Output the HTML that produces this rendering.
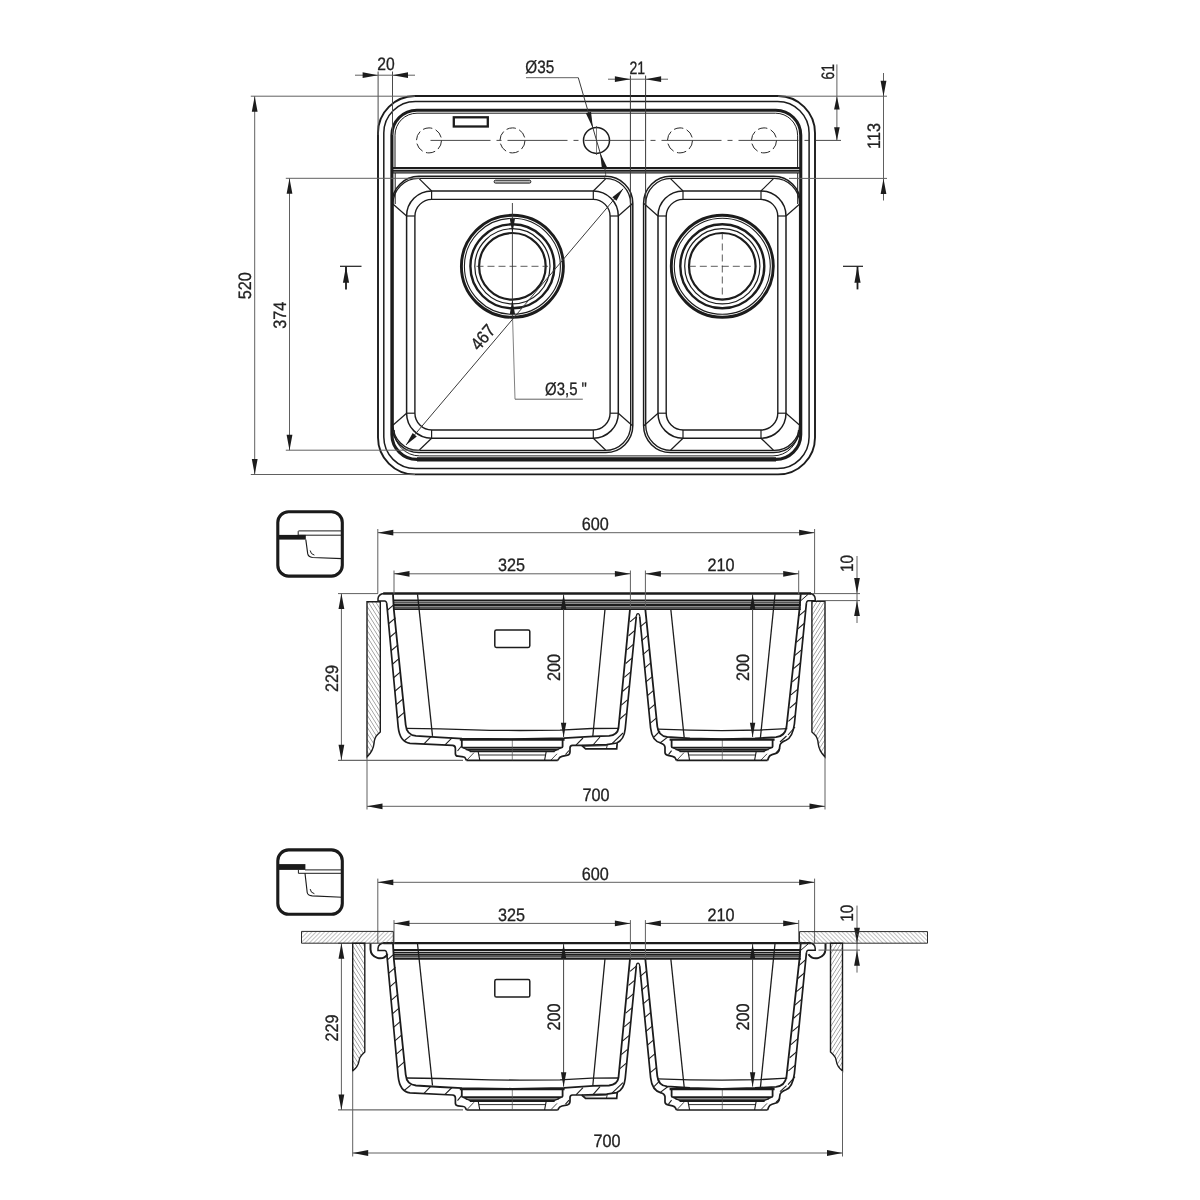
<!DOCTYPE html>
<html><head><meta charset="utf-8"><title>Sink technical drawing</title>
<style>html,body{margin:0;padding:0;background:#fff}svg{display:block}text{font-family:"Liberation Sans",sans-serif;fill:#222;stroke:#222;stroke-width:0.3px;text-rendering:geometricPrecision}svg{filter:grayscale(1)}</style></head><body>
<svg width="1200" height="1200" viewBox="0 0 1200 1200">
<rect width="1200" height="1200" fill="#fff"/>
<g id="topview">
<rect x="378.00" y="96.00" width="437.00" height="378.40" rx="37" ry="37" stroke="#1c1c1c" stroke-width="1.9" fill="none"/>
<rect x="383.80" y="101.60" width="425.30" height="367.00" rx="31.5" ry="31.5" stroke="#1c1c1c" stroke-width="1.5" fill="none"/>
<rect x="391.90" y="110.20" width="408.85" height="349.20" rx="25" ry="25" stroke="#1c1c1c" stroke-width="3.1" fill="none"/>
<path d="M395,168 L395,135.2 A22,22 0 0 1 417,113.2 L775.6,113.2 A22,22 0 0 1 797.6,135.2 L797.6,168" stroke="#1c1c1c" stroke-width="1.0" fill="none" />
<path d="M394.2,430 A25.5,25.5 0 0 0 419.5,455.9 L773,455.9 A25.5,25.5 0 0 0 798.4,430" stroke="#1c1c1c" stroke-width="1.0" fill="none" />
<line x1="417.00" y1="459.45" x2="776.00" y2="459.45" stroke="#1c1c1c" stroke-width="4.2" />
<line x1="797.70" y1="173.00" x2="797.70" y2="204.00" stroke="#1c1c1c" stroke-width="1.0" />
<line x1="395.20" y1="173.00" x2="395.20" y2="204.00" stroke="#1c1c1c" stroke-width="1.0" />
<line x1="392.00" y1="168.10" x2="800.60" y2="168.10" stroke="#1c1c1c" stroke-width="2.0" />
<line x1="392.00" y1="170.70" x2="800.60" y2="170.70" stroke="#1c1c1c" stroke-width="2.0" />
<line x1="393.00" y1="172.90" x2="799.60" y2="172.90" stroke="#1c1c1c" stroke-width="1.2" />
<rect x="453.8" y="117.3" width="34" height="9.2" stroke="#1c1c1c" stroke-width="2.3" fill="none"/>
<circle cx="429.00" cy="140.40" r="12.50" stroke="#2a2a2a" stroke-width="1.0" fill="none" stroke-dasharray="9.5 3.6"/>
<circle cx="512.50" cy="140.40" r="12.50" stroke="#2a2a2a" stroke-width="1.0" fill="none" stroke-dasharray="9.5 3.6"/>
<circle cx="680.00" cy="140.40" r="12.50" stroke="#2a2a2a" stroke-width="1.0" fill="none" stroke-dasharray="9.5 3.6"/>
<circle cx="764.00" cy="140.40" r="12.50" stroke="#2a2a2a" stroke-width="1.0" fill="none" stroke-dasharray="9.5 3.6"/>
<circle cx="596.50" cy="140.40" r="13.00" stroke="#1c1c1c" stroke-width="1.5" fill="none" />
<line x1="430.50" y1="140.40" x2="841.00" y2="140.40" stroke="#333" stroke-width="0.9" stroke-dasharray="60 6 5 6"/>
<line x1="596.50" y1="126.00" x2="596.50" y2="155.00" stroke="#444" stroke-width="0.7" />
<rect x="392.00" y="176.30" width="240.80" height="276.30" rx="27" ry="27" stroke="#1c1c1c" stroke-width="1.5" fill="none"/>
<rect x="393.00" y="178.40" width="237.70" height="272.00" rx="25.5" ry="25.5" stroke="#1c1c1c" stroke-width="1.35" fill="none"/>
<rect x="406.60" y="191.00" width="211.70" height="247.20" rx="25" ry="25" stroke="#1c1c1c" stroke-width="1.5" fill="none"/>
<rect x="414.90" y="199.40" width="195.20" height="230.60" rx="17" ry="17" stroke="#1c1c1c" stroke-width="1.4" fill="none"/>
<line x1="431.60" y1="191.00" x2="431.60" y2="199.40" stroke="#1c1c1c" stroke-width="1.2" />
<line x1="431.60" y1="438.20" x2="431.60" y2="430.00" stroke="#1c1c1c" stroke-width="1.2" />
<line x1="593.30" y1="191.00" x2="593.30" y2="199.40" stroke="#1c1c1c" stroke-width="1.2" />
<line x1="593.30" y1="438.20" x2="593.30" y2="430.00" stroke="#1c1c1c" stroke-width="1.2" />
<line x1="406.60" y1="216.00" x2="414.90" y2="216.00" stroke="#1c1c1c" stroke-width="1.2" />
<line x1="618.30" y1="216.00" x2="610.10" y2="216.00" stroke="#1c1c1c" stroke-width="1.2" />
<line x1="406.60" y1="413.20" x2="414.90" y2="413.20" stroke="#1c1c1c" stroke-width="1.2" />
<line x1="618.30" y1="413.20" x2="610.10" y2="413.20" stroke="#1c1c1c" stroke-width="1.2" />
<line x1="431.60" y1="191.00" x2="419.10" y2="178.60" stroke="#1c1c1c" stroke-width="1.2" />
<line x1="406.60" y1="216.00" x2="392.30" y2="203.50" stroke="#1c1c1c" stroke-width="1.2" />
<line x1="593.30" y1="191.00" x2="605.80" y2="178.60" stroke="#1c1c1c" stroke-width="1.2" />
<line x1="618.30" y1="216.00" x2="632.50" y2="203.50" stroke="#1c1c1c" stroke-width="1.2" />
<line x1="431.60" y1="438.20" x2="419.10" y2="450.30" stroke="#1c1c1c" stroke-width="1.2" />
<line x1="406.60" y1="413.20" x2="392.30" y2="425.70" stroke="#1c1c1c" stroke-width="1.2" />
<line x1="593.30" y1="438.20" x2="605.80" y2="450.30" stroke="#1c1c1c" stroke-width="1.2" />
<line x1="618.30" y1="413.20" x2="632.50" y2="425.70" stroke="#1c1c1c" stroke-width="1.2" />
<rect x="643.60" y="176.30" width="157.00" height="276.30" rx="27" ry="27" stroke="#1c1c1c" stroke-width="1.5" fill="none"/>
<rect x="645.70" y="178.40" width="153.90" height="272.00" rx="25.5" ry="25.5" stroke="#1c1c1c" stroke-width="1.35" fill="none"/>
<rect x="658.00" y="191.00" width="128.00" height="247.20" rx="25" ry="25" stroke="#1c1c1c" stroke-width="1.5" fill="none"/>
<rect x="666.20" y="199.40" width="111.60" height="230.60" rx="17" ry="17" stroke="#1c1c1c" stroke-width="1.4" fill="none"/>
<line x1="683.00" y1="191.00" x2="683.00" y2="199.40" stroke="#1c1c1c" stroke-width="1.2" />
<line x1="683.00" y1="438.20" x2="683.00" y2="430.00" stroke="#1c1c1c" stroke-width="1.2" />
<line x1="761.00" y1="191.00" x2="761.00" y2="199.40" stroke="#1c1c1c" stroke-width="1.2" />
<line x1="761.00" y1="438.20" x2="761.00" y2="430.00" stroke="#1c1c1c" stroke-width="1.2" />
<line x1="658.00" y1="216.00" x2="666.20" y2="216.00" stroke="#1c1c1c" stroke-width="1.2" />
<line x1="786.00" y1="216.00" x2="777.80" y2="216.00" stroke="#1c1c1c" stroke-width="1.2" />
<line x1="658.00" y1="413.20" x2="666.20" y2="413.20" stroke="#1c1c1c" stroke-width="1.2" />
<line x1="786.00" y1="413.20" x2="777.80" y2="413.20" stroke="#1c1c1c" stroke-width="1.2" />
<line x1="683.00" y1="191.00" x2="670.50" y2="178.60" stroke="#1c1c1c" stroke-width="1.2" />
<line x1="658.00" y1="216.00" x2="643.90" y2="203.50" stroke="#1c1c1c" stroke-width="1.2" />
<line x1="761.00" y1="191.00" x2="773.50" y2="178.60" stroke="#1c1c1c" stroke-width="1.2" />
<line x1="786.00" y1="216.00" x2="800.30" y2="203.50" stroke="#1c1c1c" stroke-width="1.2" />
<line x1="683.00" y1="438.20" x2="670.50" y2="450.30" stroke="#1c1c1c" stroke-width="1.2" />
<line x1="658.00" y1="413.20" x2="643.90" y2="425.70" stroke="#1c1c1c" stroke-width="1.2" />
<line x1="761.00" y1="438.20" x2="773.50" y2="450.30" stroke="#1c1c1c" stroke-width="1.2" />
<line x1="786.00" y1="413.20" x2="800.30" y2="425.70" stroke="#1c1c1c" stroke-width="1.2" />
<rect x="494.2" y="180.2" width="36.6" height="2.9" rx="1.2" stroke="#1c1c1c" stroke-width="1" fill="#bbb"/>
<circle cx="512.40" cy="266.30" r="51.00" stroke="#1c1c1c" stroke-width="2.9" fill="none" />
<circle cx="512.40" cy="266.30" r="48.00" stroke="#1c1c1c" stroke-width="1.1" fill="none" />
<circle cx="512.40" cy="266.30" r="42.00" stroke="#1c1c1c" stroke-width="2.4" fill="none" />
<circle cx="512.40" cy="266.30" r="37.60" stroke="#1c1c1c" stroke-width="1.2" fill="none" />
<circle cx="512.40" cy="266.30" r="33.30" stroke="#1c1c1c" stroke-width="2.2" fill="none" />
<circle cx="722.30" cy="266.30" r="51.00" stroke="#1c1c1c" stroke-width="2.9" fill="none" />
<circle cx="722.30" cy="266.30" r="48.00" stroke="#1c1c1c" stroke-width="1.1" fill="none" />
<circle cx="722.30" cy="266.30" r="42.00" stroke="#1c1c1c" stroke-width="2.4" fill="none" />
<circle cx="722.30" cy="266.30" r="37.60" stroke="#1c1c1c" stroke-width="1.2" fill="none" />
<circle cx="722.30" cy="266.30" r="33.30" stroke="#1c1c1c" stroke-width="2.2" fill="none" />
<line x1="476.50" y1="266.30" x2="548.00" y2="266.30" stroke="#333" stroke-width="0.8" stroke-dasharray="7 4"/>
<line x1="688.80" y1="266.30" x2="755.00" y2="266.30" stroke="#333" stroke-width="0.8" stroke-dasharray="7 4"/>
<line x1="722.30" y1="232.50" x2="722.30" y2="300.00" stroke="#333" stroke-width="0.8" stroke-dasharray="7 4"/>
<line x1="512.40" y1="203.00" x2="512.40" y2="319.00" stroke="#333" stroke-width="0.9" />
<line x1="512.60" y1="319.00" x2="515.00" y2="399.20" stroke="#606060" stroke-width="0.8" />
<line x1="515.00" y1="399.20" x2="582.80" y2="399.20" stroke="#606060" stroke-width="1.0" />
<polygon points="512.40,233.00 509.80,218.70 515.00,218.70" fill="#1c1c1c"/>
<polygon points="512.40,299.60 515.00,313.90 509.80,313.90" fill="#1c1c1c"/>
<text transform="translate(566.00 395.30) rotate(0) scale(0.83 1)" text-anchor="middle" font-size="18">Ø3,5 "</text>
</g>
<g id="topdims">
<line x1="378.10" y1="71.50" x2="378.10" y2="135.00" stroke="#4a4a4a" stroke-width="1.0" />
<line x1="392.50" y1="71.50" x2="392.50" y2="135.00" stroke="#4a4a4a" stroke-width="1.0" />
<line x1="355.00" y1="75.20" x2="415.00" y2="75.20" stroke="#606060" stroke-width="1.0" />
<polygon points="378.10,75.20 362.60,78.10 362.60,72.30" fill="#1c1c1c"/>
<polygon points="392.50,75.20 408.00,72.30 408.00,78.10" fill="#1c1c1c"/>
<text transform="translate(386.00 70.40) rotate(0) scale(0.87 1)" text-anchor="middle" font-size="18">20</text>
<line x1="630.40" y1="75.50" x2="630.40" y2="205.00" stroke="#3a3a3a" stroke-width="1.0" />
<line x1="645.60" y1="75.50" x2="645.60" y2="205.00" stroke="#3a3a3a" stroke-width="1.0" />
<line x1="608.00" y1="79.20" x2="668.00" y2="79.20" stroke="#606060" stroke-width="1.0" />
<polygon points="630.40,79.20 614.90,82.10 614.90,76.30" fill="#1c1c1c"/>
<polygon points="645.60,79.20 661.10,76.30 661.10,82.10" fill="#1c1c1c"/>
<text transform="translate(637.20 74.20) rotate(0) scale(0.78 1)" text-anchor="middle" font-size="18">21</text>
<text transform="translate(539.70 72.80) rotate(0) scale(0.85 1)" text-anchor="middle" font-size="18">Ø35</text>
<line x1="526.00" y1="77.70" x2="578.30" y2="77.70" stroke="#606060" stroke-width="1.0" />
<line x1="578.30" y1="77.70" x2="605.30" y2="170.60" stroke="#3a3a3a" stroke-width="1.0" />
<path d="M605.3,170.6 Q606.4,175 604.6,177.6" stroke="#3a3a3a" stroke-width="0.9" fill="none" />
<polygon points="592.88,127.91 585.83,113.30 591.02,111.80" fill="#1c1c1c"/>
<polygon points="600.12,152.89 607.17,167.50 601.98,169.00" fill="#1c1c1c"/>
<line x1="836.90" y1="64.40" x2="836.90" y2="140.40" stroke="#606060" stroke-width="1.0" />
<polygon points="836.90,96.20 839.70,109.40 834.10,109.40" fill="#1c1c1c"/>
<polygon points="836.90,140.40 834.10,127.20 839.70,127.20" fill="#1c1c1c"/>
<text transform="translate(833.70 71.80) rotate(-90) scale(0.77 1)" text-anchor="middle" font-size="18">61</text>
<line x1="778.00" y1="96.20" x2="887.00" y2="96.20" stroke="#606060" stroke-width="1.0" />
<line x1="789.00" y1="178.40" x2="887.00" y2="178.40" stroke="#606060" stroke-width="1.0" />
<line x1="883.50" y1="73.00" x2="883.50" y2="200.50" stroke="#606060" stroke-width="1.0" />
<polygon points="883.50,96.20 880.60,80.70 886.40,80.70" fill="#1c1c1c"/>
<polygon points="883.50,178.40 886.40,193.90 880.60,193.90" fill="#1c1c1c"/>
<text transform="translate(880.30 136.00) rotate(-90) scale(0.9 1)" text-anchor="middle" font-size="18">113</text>
<line x1="250.80" y1="96.20" x2="415.00" y2="96.20" stroke="#606060" stroke-width="1.0" />
<line x1="250.80" y1="474.50" x2="415.00" y2="474.50" stroke="#606060" stroke-width="1.0" />
<line x1="254.70" y1="96.20" x2="254.70" y2="474.50" stroke="#606060" stroke-width="1.0" />
<polygon points="254.70,96.20 257.60,111.70 251.80,111.70" fill="#1c1c1c"/>
<polygon points="254.70,474.50 251.80,459.00 257.60,459.00" fill="#1c1c1c"/>
<text transform="translate(251.00 285.70) rotate(-90) scale(0.9 1)" text-anchor="middle" font-size="18">520</text>
<line x1="285.80" y1="178.30" x2="420.00" y2="178.30" stroke="#606060" stroke-width="1.0" />
<line x1="285.80" y1="450.20" x2="420.00" y2="450.20" stroke="#606060" stroke-width="1.0" />
<line x1="289.50" y1="178.30" x2="289.50" y2="450.20" stroke="#606060" stroke-width="1.0" />
<polygon points="289.50,178.30 292.40,193.80 286.60,193.80" fill="#1c1c1c"/>
<polygon points="289.50,450.20 286.60,434.70 292.40,434.70" fill="#1c1c1c"/>
<text transform="translate(286.40 315.30) rotate(-90) scale(0.9 1)" text-anchor="middle" font-size="18">374</text>
<line x1="406.00" y1="445.00" x2="623.10" y2="188.80" stroke="#3a3a3a" stroke-width="1.0" />
<polygon points="623.10,188.80 616.43,200.84 612.31,197.35" fill="#1c1c1c"/>
<polygon points="406.00,445.00 412.67,432.96 416.79,436.45" fill="#1c1c1c"/>
<text transform="translate(487.50 341.30) rotate(-49.72256370871027) scale(0.9 1)" text-anchor="middle" font-size="18">467</text>
<line x1="340.00" y1="266.30" x2="361.50" y2="266.30" stroke="#1c1c1c" stroke-width="1.2" />
<line x1="346.00" y1="266.50" x2="346.00" y2="289.40" stroke="#1c1c1c" stroke-width="1.8" />
<polygon points="346.00,266.30 349.10,282.80 342.90,282.80" fill="#1c1c1c"/>
<line x1="843.00" y1="266.30" x2="863.00" y2="266.30" stroke="#1c1c1c" stroke-width="1.2" />
<line x1="857.50" y1="266.50" x2="857.50" y2="289.40" stroke="#1c1c1c" stroke-width="1.8" />
<polygon points="857.50,266.30 860.60,282.80 854.40,282.80" fill="#1c1c1c"/>
</g>
<defs>
<pattern id="hA" width="3.2" height="3.2" patternUnits="userSpaceOnUse" patternTransform="rotate(58)"><line x1="0" y1="0" x2="3.2" y2="0" stroke="#555" stroke-width="0.9"/></pattern>
<pattern id="hB" width="3.2" height="3.2" patternUnits="userSpaceOnUse" patternTransform="rotate(-58)"><line x1="0" y1="0" x2="3.2" y2="0" stroke="#555" stroke-width="0.9"/></pattern>
<pattern id="hC" width="3.0" height="3.0" patternUnits="userSpaceOnUse" patternTransform="rotate(-45)"><line x1="0" y1="0" x2="3.0" y2="0" stroke="#666" stroke-width="0.8"/></pattern>
<pattern id="hD" width="3.0" height="3.0" patternUnits="userSpaceOnUse" patternTransform="rotate(45)"><line x1="0" y1="0" x2="3.0" y2="0" stroke="#666" stroke-width="0.8"/></pattern>
</defs>
<g transform="translate(0 0)">
<path d="M383.3,593.5 L811,593.5" stroke="#1c1c1c" stroke-width="2.4" fill="none" />
<path d="M384,593.4 Q378.4,594 378,598.6 L378,600.9 L385,600.9 Q386.4,601.2 386.7,603.2" stroke="#1c1c1c" stroke-width="1.5" fill="none" />
<path d="M810,593.4 Q814.8,594 815.2,598.6 L815.2,600.7 L808,600.7 Q806.7,601.1 806.4,603.2" stroke="#1c1c1c" stroke-width="1.5" fill="none" />
<line x1="800.90" y1="600.60" x2="808.00" y2="594.40" stroke="#1c1c1c" stroke-width="1.0" />
<line x1="393.70" y1="600.40" x2="800.80" y2="600.40" stroke="#1c1c1c" stroke-width="2.0" />
<line x1="393.70" y1="602.80" x2="800.80" y2="602.80" stroke="#1c1c1c" stroke-width="1.3" />
<line x1="393.70" y1="605.00" x2="800.80" y2="605.00" stroke="#1c1c1c" stroke-width="2.2" />
<line x1="393.70" y1="607.20" x2="800.80" y2="607.20" stroke="#1c1c1c" stroke-width="1.3" />
<line x1="393.70" y1="609.20" x2="800.80" y2="609.20" stroke="#1c1c1c" stroke-width="1.7" />
<path d="M393,594.2 L393.8,609.2 L405.7,725 Q406.6,735 416,735.9 L440,737.4 L462,738.6 L512,739.2 L564,738.2 L593.3,736.3 L609,735.9 Q617.5,735 618.5,728 L630,609.2" stroke="#1c1c1c" stroke-width="1.8" fill="none" />
<path d="M386.7,603.2 L398.2,727 Q399.8,742 410,743.3 L452.5,745.4 Q455.4,745.6 455.4,748.5 L455.4,753.8 Q455.6,756 458,756.2 L463.5,756.9 Q465,757 465.6,758.6 L466.4,760.4" stroke="#1c1c1c" stroke-width="1.7" fill="none" />
<path d="M406,728.4 L440,728.9 L490,730.3 L520,730.5 L560,730.2 L591.7,728.5 L618.5,728.4" stroke="#1c1c1c" stroke-width="1.3" fill="none" />
<line x1="417.50" y1="594.20" x2="432.50" y2="735.90" stroke="#1c1c1c" stroke-width="1.3" />
<line x1="605.00" y1="609.20" x2="592.80" y2="736.20" stroke="#1c1c1c" stroke-width="1.3" />
<rect x="494.8" y="630" width="35" height="17.4" rx="1.6" stroke="#1c1c1c" stroke-width="1.5" fill="none"/>
<path d="M636.3,616.5 L625.2,729 Q624,740 616.7,743 L606.7,744.6 L581.7,745.4 L572.5,745.4 Q570,745.6 570,748 L570,751.7 Q570,754.6 567.6,755.2 L562,756.4 Q559.6,757 558.8,758.6 L557.8,760.4" stroke="#1c1c1c" stroke-width="1.7" fill="none" />
<path d="M581.7,745.4 L585.6,748.8 L616.7,748.8 L617.2,743.2" stroke="#1c1c1c" stroke-width="1.7" fill="none" />
<line x1="583.50" y1="746.40" x2="606.70" y2="745.60" stroke="#1c1c1c" stroke-width="0.8" />
<line x1="607.40" y1="744.60" x2="606.40" y2="748.80" stroke="#1c1c1c" stroke-width="0.9" />
<path d="M636.3,616.5 Q636.6,613.6 638,613.6 Q639.5,613.6 639.7,616.5" stroke="#1c1c1c" stroke-width="1.3" fill="none" />
<path d="M639.7,616.5 L650.6,728 Q652,741 661,743.2 Q664.6,744.2 665,747 L665,752.6 Q665.2,754.8 668,755.3 L672.5,756.3 Q675,756.8 675.6,758.6 L676.4,760.4" stroke="#1c1c1c" stroke-width="1.7" fill="none" />
<path d="M645.3,609.2 L657.3,726.5 Q658.4,736 667,736.8 L690,738.4 L722,739.2 L755,738.4 L776,737.2 Q785,736.4 786.5,727 L799.5,609.2 L800.7,594.2" stroke="#1c1c1c" stroke-width="1.8" fill="none" />
<path d="M806.4,603.2 L794.4,724 Q792.6,737.6 786,740.2 Q781,742 780,745 L779.4,749 Q779,752.6 776,753.4 L772,754.6 Q769.4,755.4 768.6,757.6 L767.6,760.4" stroke="#1c1c1c" stroke-width="1.7" fill="none" />
<path d="M657.6,729.2 L690,730.2 L722,730.6 L760,730 L787.3,728.6" stroke="#1c1c1c" stroke-width="1.3" fill="none" />
<line x1="670.80" y1="609.20" x2="684.20" y2="737.60" stroke="#1c1c1c" stroke-width="1.3" />
<line x1="775.00" y1="594.20" x2="760.40" y2="738.00" stroke="#1c1c1c" stroke-width="1.3" />
<path d="M461.8,739.6 L461.8,746.4 Q461.8,747.6 463.2,747.6 L561.2,747.6 Q562.6,747.6 562.6,746.4 L562.6,739.6" stroke="#1c1c1c" stroke-width="1.8" fill="none" />
<line x1="465.80" y1="749.50" x2="558.60" y2="749.50" stroke="#1c1c1c" stroke-width="1.3" />
<line x1="469.80" y1="751.30" x2="554.60" y2="751.30" stroke="#1c1c1c" stroke-width="2.0" />
<line x1="463.20" y1="747.80" x2="470.80" y2="751.40" stroke="#1c1c1c" stroke-width="1.2" />
<line x1="561.20" y1="747.80" x2="553.60" y2="751.40" stroke="#1c1c1c" stroke-width="1.2" />
<line x1="478.80" y1="755.00" x2="545.60" y2="755.00" stroke="#1c1c1c" stroke-width="0.9" />
<line x1="466.40" y1="760.40" x2="557.80" y2="760.40" stroke="#1c1c1c" stroke-width="1.6" />
<line x1="478.20" y1="751.60" x2="479.80" y2="760.40" stroke="#1c1c1c" stroke-width="1.1" />
<line x1="546.20" y1="751.60" x2="544.60" y2="760.40" stroke="#1c1c1c" stroke-width="1.1" />
<line x1="512.30" y1="739.00" x2="512.30" y2="760.40" stroke="#555" stroke-width="0.7" />
<line x1="459.80" y1="739.60" x2="564.60" y2="739.60" stroke="#1c1c1c" stroke-width="2.2" />
<path d="M671.6,739.6 L671.6,746.4 Q671.6,747.6 673.0,747.6 L771.2,747.6 Q772.6,747.6 772.6,746.4 L772.6,739.6" stroke="#1c1c1c" stroke-width="1.8" fill="none" />
<line x1="675.60" y1="749.50" x2="768.60" y2="749.50" stroke="#1c1c1c" stroke-width="1.3" />
<line x1="679.60" y1="751.30" x2="764.60" y2="751.30" stroke="#1c1c1c" stroke-width="2.0" />
<line x1="673.00" y1="747.80" x2="680.60" y2="751.40" stroke="#1c1c1c" stroke-width="1.2" />
<line x1="771.20" y1="747.80" x2="763.60" y2="751.40" stroke="#1c1c1c" stroke-width="1.2" />
<line x1="688.60" y1="755.00" x2="755.60" y2="755.00" stroke="#1c1c1c" stroke-width="0.9" />
<line x1="676.40" y1="760.40" x2="767.60" y2="760.40" stroke="#1c1c1c" stroke-width="1.6" />
<line x1="688.00" y1="751.60" x2="689.60" y2="760.40" stroke="#1c1c1c" stroke-width="1.1" />
<line x1="756.20" y1="751.60" x2="754.60" y2="760.40" stroke="#1c1c1c" stroke-width="1.1" />
<line x1="722.30" y1="739.00" x2="722.30" y2="760.40" stroke="#555" stroke-width="0.7" />
<line x1="669.60" y1="739.60" x2="774.60" y2="739.60" stroke="#1c1c1c" stroke-width="2.2" />
<line x1="387.34" y1="610.23" x2="394.24" y2="604.36" stroke="#1c1c1c" stroke-width="1.05" />
<line x1="388.59" y1="623.73" x2="395.49" y2="617.86" stroke="#1c1c1c" stroke-width="1.05" />
<line x1="389.85" y1="637.23" x2="396.75" y2="631.36" stroke="#1c1c1c" stroke-width="1.05" />
<line x1="391.11" y1="650.73" x2="398.01" y2="644.86" stroke="#1c1c1c" stroke-width="1.05" />
<line x1="392.36" y1="664.23" x2="399.26" y2="658.36" stroke="#1c1c1c" stroke-width="1.05" />
<line x1="393.62" y1="677.73" x2="400.52" y2="671.86" stroke="#1c1c1c" stroke-width="1.05" />
<line x1="394.87" y1="691.23" x2="401.77" y2="685.36" stroke="#1c1c1c" stroke-width="1.05" />
<line x1="396.13" y1="704.73" x2="403.03" y2="698.86" stroke="#1c1c1c" stroke-width="1.05" />
<line x1="397.38" y1="718.23" x2="404.28" y2="712.36" stroke="#1c1c1c" stroke-width="1.05" />
<line x1="805.74" y1="610.11" x2="798.84" y2="615.97" stroke="#1c1c1c" stroke-width="1.05" />
<line x1="804.43" y1="623.27" x2="797.53" y2="629.14" stroke="#1c1c1c" stroke-width="1.05" />
<line x1="803.12" y1="636.44" x2="796.22" y2="642.31" stroke="#1c1c1c" stroke-width="1.05" />
<line x1="801.81" y1="649.61" x2="794.91" y2="655.47" stroke="#1c1c1c" stroke-width="1.05" />
<line x1="800.50" y1="662.77" x2="793.60" y2="668.64" stroke="#1c1c1c" stroke-width="1.05" />
<line x1="799.19" y1="675.94" x2="792.29" y2="681.81" stroke="#1c1c1c" stroke-width="1.05" />
<line x1="797.87" y1="689.11" x2="790.97" y2="694.97" stroke="#1c1c1c" stroke-width="1.05" />
<line x1="796.56" y1="702.27" x2="789.66" y2="708.14" stroke="#1c1c1c" stroke-width="1.05" />
<line x1="795.25" y1="715.44" x2="788.35" y2="721.31" stroke="#1c1c1c" stroke-width="1.05" />
<line x1="630.09" y1="621.86" x2="636.29" y2="616.59" stroke="#1c1c1c" stroke-width="1.05" />
<line x1="628.63" y1="635.73" x2="634.83" y2="630.46" stroke="#1c1c1c" stroke-width="1.05" />
<line x1="627.16" y1="649.61" x2="633.36" y2="644.34" stroke="#1c1c1c" stroke-width="1.05" />
<line x1="625.70" y1="663.48" x2="631.90" y2="658.21" stroke="#1c1c1c" stroke-width="1.05" />
<line x1="624.24" y1="677.36" x2="630.44" y2="672.09" stroke="#1c1c1c" stroke-width="1.05" />
<line x1="622.78" y1="691.23" x2="628.98" y2="685.96" stroke="#1c1c1c" stroke-width="1.05" />
<line x1="621.31" y1="705.11" x2="627.51" y2="699.84" stroke="#1c1c1c" stroke-width="1.05" />
<line x1="619.85" y1="718.98" x2="626.05" y2="713.71" stroke="#1c1c1c" stroke-width="1.05" />
<line x1="646.11" y1="621.81" x2="639.91" y2="627.08" stroke="#1c1c1c" stroke-width="1.05" />
<line x1="647.56" y1="635.56" x2="641.36" y2="640.83" stroke="#1c1c1c" stroke-width="1.05" />
<line x1="649.01" y1="649.31" x2="642.81" y2="654.58" stroke="#1c1c1c" stroke-width="1.05" />
<line x1="650.46" y1="663.06" x2="644.26" y2="668.33" stroke="#1c1c1c" stroke-width="1.05" />
<line x1="651.91" y1="676.81" x2="645.71" y2="682.08" stroke="#1c1c1c" stroke-width="1.05" />
<line x1="653.36" y1="690.56" x2="647.16" y2="695.83" stroke="#1c1c1c" stroke-width="1.05" />
<line x1="654.81" y1="704.31" x2="648.61" y2="709.58" stroke="#1c1c1c" stroke-width="1.05" />
<line x1="656.26" y1="718.06" x2="650.06" y2="723.33" stroke="#1c1c1c" stroke-width="1.05" />
<line x1="404.00" y1="741.00" x2="410.60" y2="735.60" stroke="#1c1c1c" stroke-width="1.1" />
<line x1="424.00" y1="743.80" x2="431.00" y2="736.60" stroke="#1c1c1c" stroke-width="1.1" />
<line x1="445.00" y1="744.80" x2="452.00" y2="737.90" stroke="#1c1c1c" stroke-width="1.1" />
<line x1="457.50" y1="751.00" x2="461.60" y2="746.00" stroke="#1c1c1c" stroke-width="1.1" />
<line x1="576.00" y1="745.20" x2="583.00" y2="738.00" stroke="#1c1c1c" stroke-width="1.1" />
<line x1="593.00" y1="745.00" x2="600.00" y2="737.00" stroke="#1c1c1c" stroke-width="1.1" />
<line x1="612.00" y1="743.60" x2="623.00" y2="733.00" stroke="#1c1c1c" stroke-width="1.1" />
<line x1="565.50" y1="754.50" x2="569.00" y2="750.50" stroke="#1c1c1c" stroke-width="1.1" />
<line x1="654.00" y1="737.00" x2="660.00" y2="731.00" stroke="#1c1c1c" stroke-width="1.1" />
<line x1="660.00" y1="743.00" x2="668.00" y2="736.90" stroke="#1c1c1c" stroke-width="1.1" />
<line x1="668.50" y1="754.60" x2="671.60" y2="750.60" stroke="#1c1c1c" stroke-width="1.1" />
<line x1="776.00" y1="752.80" x2="780.00" y2="748.40" stroke="#1c1c1c" stroke-width="1.1" />
<line x1="780.00" y1="742.00" x2="786.50" y2="736.00" stroke="#1c1c1c" stroke-width="1.1" />
<line x1="788.00" y1="735.00" x2="795.00" y2="727.00" stroke="#1c1c1c" stroke-width="1.1" />
<line x1="467.00" y1="760.00" x2="474.00" y2="752.60" stroke="#1c1c1c" stroke-width="0.8" />
<line x1="551.00" y1="760.00" x2="557.00" y2="753.80" stroke="#1c1c1c" stroke-width="0.8" />
<line x1="677.00" y1="760.00" x2="684.00" y2="752.60" stroke="#1c1c1c" stroke-width="0.8" />
<line x1="761.00" y1="760.00" x2="767.00" y2="753.80" stroke="#1c1c1c" stroke-width="0.8" />
<line x1="377.80" y1="529.00" x2="377.80" y2="593.50" stroke="#606060" stroke-width="1.0" />
<line x1="814.60" y1="529.00" x2="814.60" y2="593.50" stroke="#606060" stroke-width="1.0" />
<line x1="377.80" y1="532.70" x2="814.60" y2="532.70" stroke="#606060" stroke-width="1.0" />
<polygon points="377.80,532.70 393.30,529.80 393.30,535.60" fill="#1c1c1c"/>
<polygon points="814.60,532.70 799.10,535.60 799.10,529.80" fill="#1c1c1c"/>
<text transform="translate(595.30 530.10) rotate(0) scale(0.9 1)" text-anchor="middle" font-size="18">600</text>
<line x1="394.00" y1="570.50" x2="394.00" y2="594.00" stroke="#606060" stroke-width="1.0" />
<line x1="630.40" y1="570.50" x2="630.40" y2="609.00" stroke="#606060" stroke-width="1.0" />
<line x1="394.00" y1="573.80" x2="630.40" y2="573.80" stroke="#606060" stroke-width="1.0" />
<polygon points="394.00,573.80 409.50,570.90 409.50,576.70" fill="#1c1c1c"/>
<polygon points="630.40,573.80 614.90,576.70 614.90,570.90" fill="#1c1c1c"/>
<text transform="translate(511.50 570.90) rotate(0) scale(0.9 1)" text-anchor="middle" font-size="18">325</text>
<line x1="645.40" y1="570.50" x2="645.40" y2="609.00" stroke="#606060" stroke-width="1.0" />
<line x1="798.70" y1="570.50" x2="798.70" y2="594.00" stroke="#606060" stroke-width="1.0" />
<line x1="645.40" y1="573.80" x2="798.70" y2="573.80" stroke="#606060" stroke-width="1.0" />
<polygon points="645.40,573.80 660.90,570.90 660.90,576.70" fill="#1c1c1c"/>
<polygon points="798.70,573.80 783.20,576.70 783.20,570.90" fill="#1c1c1c"/>
<text transform="translate(721.00 570.90) rotate(0) scale(0.9 1)" text-anchor="middle" font-size="18">210</text>
<line x1="563.60" y1="594.20" x2="563.60" y2="737.00" stroke="#444" stroke-width="1.0" />
<polygon points="563.60,594.60 566.30,609.10 560.90,609.10" fill="#1c1c1c"/>
<polygon points="563.60,737.20 560.90,722.70 566.30,722.70" fill="#1c1c1c"/>
<text transform="translate(560.20 667.50) rotate(-90) scale(0.9 1)" text-anchor="middle" font-size="18">200</text>
<line x1="752.60" y1="594.20" x2="752.60" y2="737.00" stroke="#444" stroke-width="1.0" />
<polygon points="752.60,594.60 755.30,609.10 749.90,609.10" fill="#1c1c1c"/>
<polygon points="752.60,737.20 749.90,722.70 755.30,722.70" fill="#1c1c1c"/>
<text transform="translate(749.20 667.50) rotate(-90) scale(0.9 1)" text-anchor="middle" font-size="18">200</text>
<line x1="338.00" y1="593.60" x2="378.00" y2="593.60" stroke="#606060" stroke-width="1.0" />
<line x1="338.00" y1="760.30" x2="463.00" y2="760.30" stroke="#444" stroke-width="1.0" />
<line x1="341.40" y1="593.60" x2="341.40" y2="760.30" stroke="#606060" stroke-width="1.0" />
<polygon points="341.40,593.60 344.30,609.10 338.50,609.10" fill="#1c1c1c"/>
<polygon points="341.40,760.30 338.50,744.80 344.30,744.80" fill="#1c1c1c"/>
<text transform="translate(338.00 678.50) rotate(-90) scale(0.9 1)" text-anchor="middle" font-size="18">229</text>
<line x1="857.00" y1="556.00" x2="857.00" y2="623.00" stroke="#606060" stroke-width="1.0" />
<polygon points="857.00,593.60 854.10,578.10 859.90,578.10" fill="#1c1c1c"/>
<polygon points="857.00,600.60 859.90,616.10 854.10,616.10" fill="#1c1c1c"/>
<text transform="translate(852.50 563.60) rotate(-90) scale(0.85 1)" text-anchor="middle" font-size="18">10</text>
</g>
<g transform="translate(0 349.6)">
<path d="M383.3,593.5 L811,593.5" stroke="#1c1c1c" stroke-width="2.4" fill="none" />
<path d="M384,593.4 Q378.4,594 378,598.6 L378,600.9 L385,600.9 Q386.4,601.2 386.7,603.2" stroke="#1c1c1c" stroke-width="1.5" fill="none" />
<path d="M810,593.4 Q814.8,594 815.2,598.6 L815.2,600.7 L808,600.7 Q806.7,601.1 806.4,603.2" stroke="#1c1c1c" stroke-width="1.5" fill="none" />
<line x1="800.90" y1="600.60" x2="808.00" y2="594.40" stroke="#1c1c1c" stroke-width="1.0" />
<line x1="393.70" y1="600.40" x2="800.80" y2="600.40" stroke="#1c1c1c" stroke-width="2.0" />
<line x1="393.70" y1="602.80" x2="800.80" y2="602.80" stroke="#1c1c1c" stroke-width="1.3" />
<line x1="393.70" y1="605.00" x2="800.80" y2="605.00" stroke="#1c1c1c" stroke-width="2.2" />
<line x1="393.70" y1="607.20" x2="800.80" y2="607.20" stroke="#1c1c1c" stroke-width="1.3" />
<line x1="393.70" y1="609.20" x2="800.80" y2="609.20" stroke="#1c1c1c" stroke-width="1.7" />
<path d="M393,594.2 L393.8,609.2 L405.7,725 Q406.6,735 416,735.9 L440,737.4 L462,738.6 L512,739.2 L564,738.2 L593.3,736.3 L609,735.9 Q617.5,735 618.5,728 L630,609.2" stroke="#1c1c1c" stroke-width="1.8" fill="none" />
<path d="M386.7,603.2 L398.2,727 Q399.8,742 410,743.3 L452.5,745.4 Q455.4,745.6 455.4,748.5 L455.4,753.8 Q455.6,756 458,756.2 L463.5,756.9 Q465,757 465.6,758.6 L466.4,760.4" stroke="#1c1c1c" stroke-width="1.7" fill="none" />
<path d="M406,728.4 L440,728.9 L490,730.3 L520,730.5 L560,730.2 L591.7,728.5 L618.5,728.4" stroke="#1c1c1c" stroke-width="1.3" fill="none" />
<line x1="417.50" y1="594.20" x2="432.50" y2="735.90" stroke="#1c1c1c" stroke-width="1.3" />
<line x1="605.00" y1="609.20" x2="592.80" y2="736.20" stroke="#1c1c1c" stroke-width="1.3" />
<rect x="494.8" y="630" width="35" height="17.4" rx="1.6" stroke="#1c1c1c" stroke-width="1.5" fill="none"/>
<path d="M636.3,616.5 L625.2,729 Q624,740 616.7,743 L606.7,744.6 L581.7,745.4 L572.5,745.4 Q570,745.6 570,748 L570,751.7 Q570,754.6 567.6,755.2 L562,756.4 Q559.6,757 558.8,758.6 L557.8,760.4" stroke="#1c1c1c" stroke-width="1.7" fill="none" />
<path d="M581.7,745.4 L585.6,748.8 L616.7,748.8 L617.2,743.2" stroke="#1c1c1c" stroke-width="1.7" fill="none" />
<line x1="583.50" y1="746.40" x2="606.70" y2="745.60" stroke="#1c1c1c" stroke-width="0.8" />
<line x1="607.40" y1="744.60" x2="606.40" y2="748.80" stroke="#1c1c1c" stroke-width="0.9" />
<path d="M636.3,616.5 Q636.6,613.6 638,613.6 Q639.5,613.6 639.7,616.5" stroke="#1c1c1c" stroke-width="1.3" fill="none" />
<path d="M639.7,616.5 L650.6,728 Q652,741 661,743.2 Q664.6,744.2 665,747 L665,752.6 Q665.2,754.8 668,755.3 L672.5,756.3 Q675,756.8 675.6,758.6 L676.4,760.4" stroke="#1c1c1c" stroke-width="1.7" fill="none" />
<path d="M645.3,609.2 L657.3,726.5 Q658.4,736 667,736.8 L690,738.4 L722,739.2 L755,738.4 L776,737.2 Q785,736.4 786.5,727 L799.5,609.2 L800.7,594.2" stroke="#1c1c1c" stroke-width="1.8" fill="none" />
<path d="M806.4,603.2 L794.4,724 Q792.6,737.6 786,740.2 Q781,742 780,745 L779.4,749 Q779,752.6 776,753.4 L772,754.6 Q769.4,755.4 768.6,757.6 L767.6,760.4" stroke="#1c1c1c" stroke-width="1.7" fill="none" />
<path d="M657.6,729.2 L690,730.2 L722,730.6 L760,730 L787.3,728.6" stroke="#1c1c1c" stroke-width="1.3" fill="none" />
<line x1="670.80" y1="609.20" x2="684.20" y2="737.60" stroke="#1c1c1c" stroke-width="1.3" />
<line x1="775.00" y1="594.20" x2="760.40" y2="738.00" stroke="#1c1c1c" stroke-width="1.3" />
<path d="M461.8,739.6 L461.8,746.4 Q461.8,747.6 463.2,747.6 L561.2,747.6 Q562.6,747.6 562.6,746.4 L562.6,739.6" stroke="#1c1c1c" stroke-width="1.8" fill="none" />
<line x1="465.80" y1="749.50" x2="558.60" y2="749.50" stroke="#1c1c1c" stroke-width="1.3" />
<line x1="469.80" y1="751.30" x2="554.60" y2="751.30" stroke="#1c1c1c" stroke-width="2.0" />
<line x1="463.20" y1="747.80" x2="470.80" y2="751.40" stroke="#1c1c1c" stroke-width="1.2" />
<line x1="561.20" y1="747.80" x2="553.60" y2="751.40" stroke="#1c1c1c" stroke-width="1.2" />
<line x1="478.80" y1="755.00" x2="545.60" y2="755.00" stroke="#1c1c1c" stroke-width="0.9" />
<line x1="466.40" y1="760.40" x2="557.80" y2="760.40" stroke="#1c1c1c" stroke-width="1.6" />
<line x1="478.20" y1="751.60" x2="479.80" y2="760.40" stroke="#1c1c1c" stroke-width="1.1" />
<line x1="546.20" y1="751.60" x2="544.60" y2="760.40" stroke="#1c1c1c" stroke-width="1.1" />
<line x1="512.30" y1="739.00" x2="512.30" y2="760.40" stroke="#555" stroke-width="0.7" />
<line x1="459.80" y1="739.60" x2="564.60" y2="739.60" stroke="#1c1c1c" stroke-width="2.2" />
<path d="M671.6,739.6 L671.6,746.4 Q671.6,747.6 673.0,747.6 L771.2,747.6 Q772.6,747.6 772.6,746.4 L772.6,739.6" stroke="#1c1c1c" stroke-width="1.8" fill="none" />
<line x1="675.60" y1="749.50" x2="768.60" y2="749.50" stroke="#1c1c1c" stroke-width="1.3" />
<line x1="679.60" y1="751.30" x2="764.60" y2="751.30" stroke="#1c1c1c" stroke-width="2.0" />
<line x1="673.00" y1="747.80" x2="680.60" y2="751.40" stroke="#1c1c1c" stroke-width="1.2" />
<line x1="771.20" y1="747.80" x2="763.60" y2="751.40" stroke="#1c1c1c" stroke-width="1.2" />
<line x1="688.60" y1="755.00" x2="755.60" y2="755.00" stroke="#1c1c1c" stroke-width="0.9" />
<line x1="676.40" y1="760.40" x2="767.60" y2="760.40" stroke="#1c1c1c" stroke-width="1.6" />
<line x1="688.00" y1="751.60" x2="689.60" y2="760.40" stroke="#1c1c1c" stroke-width="1.1" />
<line x1="756.20" y1="751.60" x2="754.60" y2="760.40" stroke="#1c1c1c" stroke-width="1.1" />
<line x1="722.30" y1="739.00" x2="722.30" y2="760.40" stroke="#555" stroke-width="0.7" />
<line x1="669.60" y1="739.60" x2="774.60" y2="739.60" stroke="#1c1c1c" stroke-width="2.2" />
<line x1="387.34" y1="610.23" x2="394.24" y2="604.36" stroke="#1c1c1c" stroke-width="1.05" />
<line x1="388.59" y1="623.73" x2="395.49" y2="617.86" stroke="#1c1c1c" stroke-width="1.05" />
<line x1="389.85" y1="637.23" x2="396.75" y2="631.36" stroke="#1c1c1c" stroke-width="1.05" />
<line x1="391.11" y1="650.73" x2="398.01" y2="644.86" stroke="#1c1c1c" stroke-width="1.05" />
<line x1="392.36" y1="664.23" x2="399.26" y2="658.36" stroke="#1c1c1c" stroke-width="1.05" />
<line x1="393.62" y1="677.73" x2="400.52" y2="671.86" stroke="#1c1c1c" stroke-width="1.05" />
<line x1="394.87" y1="691.23" x2="401.77" y2="685.36" stroke="#1c1c1c" stroke-width="1.05" />
<line x1="396.13" y1="704.73" x2="403.03" y2="698.86" stroke="#1c1c1c" stroke-width="1.05" />
<line x1="397.38" y1="718.23" x2="404.28" y2="712.36" stroke="#1c1c1c" stroke-width="1.05" />
<line x1="805.74" y1="610.11" x2="798.84" y2="615.97" stroke="#1c1c1c" stroke-width="1.05" />
<line x1="804.43" y1="623.27" x2="797.53" y2="629.14" stroke="#1c1c1c" stroke-width="1.05" />
<line x1="803.12" y1="636.44" x2="796.22" y2="642.31" stroke="#1c1c1c" stroke-width="1.05" />
<line x1="801.81" y1="649.61" x2="794.91" y2="655.47" stroke="#1c1c1c" stroke-width="1.05" />
<line x1="800.50" y1="662.77" x2="793.60" y2="668.64" stroke="#1c1c1c" stroke-width="1.05" />
<line x1="799.19" y1="675.94" x2="792.29" y2="681.81" stroke="#1c1c1c" stroke-width="1.05" />
<line x1="797.87" y1="689.11" x2="790.97" y2="694.97" stroke="#1c1c1c" stroke-width="1.05" />
<line x1="796.56" y1="702.27" x2="789.66" y2="708.14" stroke="#1c1c1c" stroke-width="1.05" />
<line x1="795.25" y1="715.44" x2="788.35" y2="721.31" stroke="#1c1c1c" stroke-width="1.05" />
<line x1="630.09" y1="621.86" x2="636.29" y2="616.59" stroke="#1c1c1c" stroke-width="1.05" />
<line x1="628.63" y1="635.73" x2="634.83" y2="630.46" stroke="#1c1c1c" stroke-width="1.05" />
<line x1="627.16" y1="649.61" x2="633.36" y2="644.34" stroke="#1c1c1c" stroke-width="1.05" />
<line x1="625.70" y1="663.48" x2="631.90" y2="658.21" stroke="#1c1c1c" stroke-width="1.05" />
<line x1="624.24" y1="677.36" x2="630.44" y2="672.09" stroke="#1c1c1c" stroke-width="1.05" />
<line x1="622.78" y1="691.23" x2="628.98" y2="685.96" stroke="#1c1c1c" stroke-width="1.05" />
<line x1="621.31" y1="705.11" x2="627.51" y2="699.84" stroke="#1c1c1c" stroke-width="1.05" />
<line x1="619.85" y1="718.98" x2="626.05" y2="713.71" stroke="#1c1c1c" stroke-width="1.05" />
<line x1="646.11" y1="621.81" x2="639.91" y2="627.08" stroke="#1c1c1c" stroke-width="1.05" />
<line x1="647.56" y1="635.56" x2="641.36" y2="640.83" stroke="#1c1c1c" stroke-width="1.05" />
<line x1="649.01" y1="649.31" x2="642.81" y2="654.58" stroke="#1c1c1c" stroke-width="1.05" />
<line x1="650.46" y1="663.06" x2="644.26" y2="668.33" stroke="#1c1c1c" stroke-width="1.05" />
<line x1="651.91" y1="676.81" x2="645.71" y2="682.08" stroke="#1c1c1c" stroke-width="1.05" />
<line x1="653.36" y1="690.56" x2="647.16" y2="695.83" stroke="#1c1c1c" stroke-width="1.05" />
<line x1="654.81" y1="704.31" x2="648.61" y2="709.58" stroke="#1c1c1c" stroke-width="1.05" />
<line x1="656.26" y1="718.06" x2="650.06" y2="723.33" stroke="#1c1c1c" stroke-width="1.05" />
<line x1="404.00" y1="741.00" x2="410.60" y2="735.60" stroke="#1c1c1c" stroke-width="1.1" />
<line x1="424.00" y1="743.80" x2="431.00" y2="736.60" stroke="#1c1c1c" stroke-width="1.1" />
<line x1="445.00" y1="744.80" x2="452.00" y2="737.90" stroke="#1c1c1c" stroke-width="1.1" />
<line x1="457.50" y1="751.00" x2="461.60" y2="746.00" stroke="#1c1c1c" stroke-width="1.1" />
<line x1="576.00" y1="745.20" x2="583.00" y2="738.00" stroke="#1c1c1c" stroke-width="1.1" />
<line x1="593.00" y1="745.00" x2="600.00" y2="737.00" stroke="#1c1c1c" stroke-width="1.1" />
<line x1="612.00" y1="743.60" x2="623.00" y2="733.00" stroke="#1c1c1c" stroke-width="1.1" />
<line x1="565.50" y1="754.50" x2="569.00" y2="750.50" stroke="#1c1c1c" stroke-width="1.1" />
<line x1="654.00" y1="737.00" x2="660.00" y2="731.00" stroke="#1c1c1c" stroke-width="1.1" />
<line x1="660.00" y1="743.00" x2="668.00" y2="736.90" stroke="#1c1c1c" stroke-width="1.1" />
<line x1="668.50" y1="754.60" x2="671.60" y2="750.60" stroke="#1c1c1c" stroke-width="1.1" />
<line x1="776.00" y1="752.80" x2="780.00" y2="748.40" stroke="#1c1c1c" stroke-width="1.1" />
<line x1="780.00" y1="742.00" x2="786.50" y2="736.00" stroke="#1c1c1c" stroke-width="1.1" />
<line x1="788.00" y1="735.00" x2="795.00" y2="727.00" stroke="#1c1c1c" stroke-width="1.1" />
<line x1="467.00" y1="760.00" x2="474.00" y2="752.60" stroke="#1c1c1c" stroke-width="0.8" />
<line x1="551.00" y1="760.00" x2="557.00" y2="753.80" stroke="#1c1c1c" stroke-width="0.8" />
<line x1="677.00" y1="760.00" x2="684.00" y2="752.60" stroke="#1c1c1c" stroke-width="0.8" />
<line x1="761.00" y1="760.00" x2="767.00" y2="753.80" stroke="#1c1c1c" stroke-width="0.8" />
<line x1="377.80" y1="529.00" x2="377.80" y2="593.50" stroke="#606060" stroke-width="1.0" />
<line x1="814.60" y1="529.00" x2="814.60" y2="593.50" stroke="#606060" stroke-width="1.0" />
<line x1="377.80" y1="532.70" x2="814.60" y2="532.70" stroke="#606060" stroke-width="1.0" />
<polygon points="377.80,532.70 393.30,529.80 393.30,535.60" fill="#1c1c1c"/>
<polygon points="814.60,532.70 799.10,535.60 799.10,529.80" fill="#1c1c1c"/>
<text transform="translate(595.30 530.10) rotate(0) scale(0.9 1)" text-anchor="middle" font-size="18">600</text>
<line x1="394.00" y1="570.50" x2="394.00" y2="594.00" stroke="#606060" stroke-width="1.0" />
<line x1="630.40" y1="570.50" x2="630.40" y2="609.00" stroke="#606060" stroke-width="1.0" />
<line x1="394.00" y1="573.80" x2="630.40" y2="573.80" stroke="#606060" stroke-width="1.0" />
<polygon points="394.00,573.80 409.50,570.90 409.50,576.70" fill="#1c1c1c"/>
<polygon points="630.40,573.80 614.90,576.70 614.90,570.90" fill="#1c1c1c"/>
<text transform="translate(511.50 570.90) rotate(0) scale(0.9 1)" text-anchor="middle" font-size="18">325</text>
<line x1="645.40" y1="570.50" x2="645.40" y2="609.00" stroke="#606060" stroke-width="1.0" />
<line x1="798.70" y1="570.50" x2="798.70" y2="594.00" stroke="#606060" stroke-width="1.0" />
<line x1="645.40" y1="573.80" x2="798.70" y2="573.80" stroke="#606060" stroke-width="1.0" />
<polygon points="645.40,573.80 660.90,570.90 660.90,576.70" fill="#1c1c1c"/>
<polygon points="798.70,573.80 783.20,576.70 783.20,570.90" fill="#1c1c1c"/>
<text transform="translate(721.00 570.90) rotate(0) scale(0.9 1)" text-anchor="middle" font-size="18">210</text>
<line x1="563.60" y1="594.20" x2="563.60" y2="737.00" stroke="#444" stroke-width="1.0" />
<polygon points="563.60,594.60 566.30,609.10 560.90,609.10" fill="#1c1c1c"/>
<polygon points="563.60,737.20 560.90,722.70 566.30,722.70" fill="#1c1c1c"/>
<text transform="translate(560.20 667.50) rotate(-90) scale(0.9 1)" text-anchor="middle" font-size="18">200</text>
<line x1="752.60" y1="594.20" x2="752.60" y2="737.00" stroke="#444" stroke-width="1.0" />
<polygon points="752.60,594.60 755.30,609.10 749.90,609.10" fill="#1c1c1c"/>
<polygon points="752.60,737.20 749.90,722.70 755.30,722.70" fill="#1c1c1c"/>
<text transform="translate(749.20 667.50) rotate(-90) scale(0.9 1)" text-anchor="middle" font-size="18">200</text>
<line x1="338.00" y1="593.60" x2="352.00" y2="593.60" stroke="#606060" stroke-width="1.0" />
<line x1="338.00" y1="760.30" x2="463.00" y2="760.30" stroke="#444" stroke-width="1.0" />
<line x1="341.40" y1="593.60" x2="341.40" y2="760.30" stroke="#606060" stroke-width="1.0" />
<polygon points="341.40,593.60 344.30,609.10 338.50,609.10" fill="#1c1c1c"/>
<polygon points="341.40,760.30 338.50,744.80 344.30,744.80" fill="#1c1c1c"/>
<text transform="translate(338.00 678.50) rotate(-90) scale(0.9 1)" text-anchor="middle" font-size="18">229</text>
<line x1="857.00" y1="556.00" x2="857.00" y2="623.00" stroke="#606060" stroke-width="1.0" />
<polygon points="857.00,593.60 854.10,578.10 859.90,578.10" fill="#1c1c1c"/>
<polygon points="857.00,600.60 859.90,616.10 854.10,616.10" fill="#1c1c1c"/>
<text transform="translate(852.50 563.60) rotate(-90) scale(0.85 1)" text-anchor="middle" font-size="18">10</text>
</g>
<g id="sec1x">
<path d="M367,601.7 L380.3,601.7 L380.3,732 L377.4,734.8 Q374.4,737.8 374,743.6 Q373.2,751 367,757 Z" stroke="#1c1c1c" stroke-width="1.4" fill="url(#hA)" />
<path d="M825,601.2 L811.9,601.2 L811.9,732 L814.8,734.8 Q817.8,737.8 818.2,743.6 Q819,751 825,757 Z" stroke="#1c1c1c" stroke-width="1.4" fill="url(#hB)" />
<line x1="812.00" y1="593.60" x2="860.00" y2="593.60" stroke="#606060" stroke-width="1.0" />
<line x1="817.00" y1="600.60" x2="860.00" y2="600.60" stroke="#606060" stroke-width="1.0" />
<line x1="367.00" y1="757.00" x2="367.00" y2="809.50" stroke="#606060" stroke-width="1.0" />
<line x1="825.00" y1="757.00" x2="825.00" y2="809.50" stroke="#606060" stroke-width="1.0" />
<line x1="367.00" y1="806.30" x2="825.00" y2="806.30" stroke="#606060" stroke-width="1.0" />
<polygon points="367.00,806.30 382.50,803.40 382.50,809.20" fill="#1c1c1c"/>
<polygon points="825.00,806.30 809.50,809.20 809.50,803.40" fill="#1c1c1c"/>
<text transform="translate(596.00 800.80) rotate(0) scale(0.9 1)" text-anchor="middle" font-size="18">700</text>
</g>
<g id="sec2x">
<path d="M301.5,931.4 L393.3,931.4 L393.3,943.2 L301.5,943.2 Z" stroke="#2a2a2a" stroke-width="1.0" fill="url(#hC)" />
<path d="M927.5,931.6 L799.5,931.6 L799.5,943.2 L927.5,943.2 Z" stroke="#2a2a2a" stroke-width="1.0" fill="url(#hD)" />
<path d="M352.7,943.2 L364.8,943.2 L364.8,1052 L362.2,1054.4 Q359.4,1057 359,1061 Q358.2,1066.6 352.7,1071 Z" stroke="#1c1c1c" stroke-width="1.4" fill="url(#hA)" />
<path d="M842.5,943.2 L830.5,943.2 L830.5,1052 L833.1,1054.4 Q835.9,1057 836.3,1061 Q837.1,1066.6 842.5,1071 Z" stroke="#1c1c1c" stroke-width="1.4" fill="url(#hB)" />
<path d="M370.5,943.4 L370.5,949.3 A9.4,9.4 0 0 0 387.6,954.2" stroke="#1c1c1c" stroke-width="2.0" fill="none" />
<path d="M825.5,943.4 L825.5,949.3 A9.4,9.4 0 0 1 808.4,954.2" stroke="#1c1c1c" stroke-width="2.0" fill="none" />
<line x1="818.50" y1="950.10" x2="860.00" y2="950.10" stroke="#606060" stroke-width="1.0" />
<line x1="352.70" y1="1071.00" x2="352.70" y2="1156.50" stroke="#606060" stroke-width="1.0" />
<line x1="842.50" y1="1071.00" x2="842.50" y2="1156.50" stroke="#606060" stroke-width="1.0" />
<line x1="352.70" y1="1153.00" x2="842.50" y2="1153.00" stroke="#606060" stroke-width="1.0" />
<polygon points="352.70,1153.00 368.20,1150.10 368.20,1155.90" fill="#1c1c1c"/>
<polygon points="842.50,1153.00 827.00,1155.90 827.00,1150.10" fill="#1c1c1c"/>
<text transform="translate(606.90 1147.40) rotate(0) scale(0.9 1)" text-anchor="middle" font-size="18">700</text>
</g>
<g transform="translate(0 511.7)">
<rect x="277.80" y="0.00" width="64.50" height="64.40" rx="10.8" ry="10.8" stroke="#1a1a1a" stroke-width="3.1" fill="none"/>
<rect x="279" y="23.2" width="26.8" height="4.7" fill="#1a1a1a"/>
<path d="M342,19.2 L298.8,19.2 Q298.2,19.2 298.2,19.8 L298.2,23.4 M298.4,23.5 L342,23.5" stroke="#1c1c1c" stroke-width="1.0" fill="none" />
<path d="M305.8,27.8 L307.7,42 Q308.3,45.4 312.5,45.8 L342,46.9" stroke="#1c1c1c" stroke-width="1.15" fill="none" />
<path d="M310.2,38.8 Q310.6,42.6 314.4,43.4" stroke="#1c1c1c" stroke-width="1.0" fill="none" />
</g>
<g transform="translate(0 849.9)">
<rect x="277.80" y="0.00" width="64.50" height="64.40" rx="10.8" ry="10.8" stroke="#1a1a1a" stroke-width="3.1" fill="none"/>
<rect x="279" y="14.2" width="26.4" height="5.8" fill="#1a1a1a"/>
<path d="M305,20 L342,20 M298.4,20 L298.4,23.4 L342,23.4" stroke="#1c1c1c" stroke-width="1.0" fill="none" />
<path d="M305,23.4 L307.2,42.6 Q307.8,45.6 312.2,46 L342,47.3" stroke="#1c1c1c" stroke-width="1.15" fill="none" />
<path d="M310.2,39.2 Q310.6,43 314.4,43.8" stroke="#1c1c1c" stroke-width="1.0" fill="none" />
</g>
</svg></body></html>
